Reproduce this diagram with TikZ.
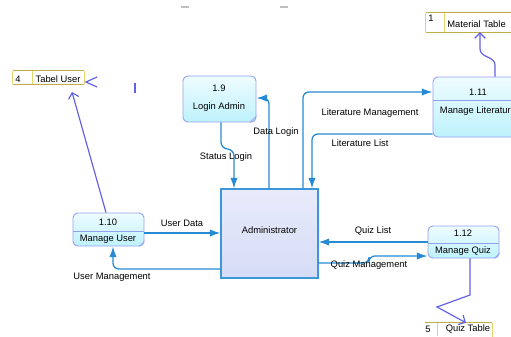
\documentclass[tikz,border=0pt]{standalone}
\usepackage{fontspec}
\setmainfont{Liberation Sans}
\usepackage{xcolor}
\usetikzlibrary{positioning,arrows.meta,fit}
\definecolor{flowblue}{RGB}{38,139,210}
\definecolor{linkviolet}{RGB}{98,96,230}
\definecolor{procline}{RGB}{150,160,240}
\definecolor{procfill}{RGB}{190,242,252}
\definecolor{proctop}{RGB}{238,252,255}
\definecolor{entline}{RGB}{60,150,215}
\definecolor{enttop}{RGB}{232,235,251}
\definecolor{entfill}{RGB}{214,220,246}
\definecolor{storeline}{RGB}{190,176,70}
\definecolor{storediv}{RGB}{226,214,110}

\begin{document}
\begin{tikzpicture}[x=0.03cm,y=-0.03cm,font=\fontsize{8}{9}\selectfont,
  proc/.style={draw=procline,line width=0.8pt,rounded corners=4pt,top color=proctop,bottom color=procfill,inner sep=0pt},
  ent/.style={draw=entline,line width=0.9pt,top color=enttop,bottom color=entfill,inner sep=0pt},
  store/.style={draw=storeline,line width=0.9pt},
  sdiv/.style={draw=storediv,line width=0.6pt},
  fold/.style={draw=procline,line width=0.6pt},
  flow/.style={draw=flowblue,line width=1.1pt,rounded corners=5pt,-{Latex[length=3.2mm,width=2.2mm]}},
  link/.style={draw=linkviolet,line width=1pt,-{Straight Barb[length=1.6mm,width=3.2mm]}},
  lbl/.style={inner sep=1pt}]
  \useasboundingbox (0,0) rectangle (511,336);
  \clip (0,0) rectangle (511,336);

  % --- data stores ---
  \node[fit={(13,71) (84,84)},inner sep=0pt] (tuser) {};
  \draw[store] (tuser.north west) -- (tuser.north east) (tuser.south west) -- (tuser.south east);
  \draw[sdiv] (tuser.north west) -- (tuser.south west) (32,71) -- (32,84) (tuser.north east) -- (tuser.south east);
  \node[lbl] at (18,79) {4}; \node[lbl] at (58,79) {Tabel User};

  \node[fit={(426,13) (540,32)},inner sep=0pt] (mtab) {};
  \draw[store] (mtab.north west) -- (mtab.north east) (mtab.south west) -- (mtab.south east);
  \draw[sdiv] (mtab.north west) -- (mtab.south west) (444,13) -- (444,32);
  \node[lbl] at (431,18) {1}; \node[lbl,anchor=west] at (446,24) {Material Table};

  \node[fit={(425,323) (492,345)},inner sep=0pt] (qtab) {};
  \draw[store] (qtab.north west) -- (qtab.north east);
  \draw[sdiv] (437,323) -- (437,336) (qtab.north east) -- (qtab.south east);
  \node[lbl] at (428,329) {5}; \node[lbl] at (468,329) {Quiz Table};

  % --- processes ---
  \node[proc,fit={(183,76) (256,122)}] (p19) {};
  \node[lbl] (p19id) at (219,88) {1.9};
  \node[lbl] (p19nm) at (219,107) {Login Admin};
  \draw[fold] ([xshift=-0.2cm]p19.south east) -- ([yshift=0.2cm]p19.south east);

  \node[proc,fit={(73,213) (144,246)}] (p10) {};
  \draw[procline,line width=0.8pt] (73,231) -- (144,231);
  \node[lbl] (p10id) at (108,222) {1.10};
  \node[lbl] (p10nm) at (108,239) {Manage User};
  \draw[fold] ([xshift=-0.15cm]p10.south east) -- ([yshift=0.15cm]p10.south east);

  \node[proc,fit={(433,77) (523,137)}] (p11) {};
  \draw[procline,line width=0.8pt] (433,100) -- (523,100);
  \node[lbl] (p11id) at (478,92) {1.11};
  \node[lbl] (p11nm) at (478,111) {Manage Literature};

  \node[proc,fit={(428,226) (499,258)}] (p12) {};
  \draw[procline,line width=0.8pt] (428,243) -- (499,243);
  \node[lbl] (p12id) at (463,233) {1.12};
  \node[lbl] (p12nm) at (463,251) {Manage Quiz};
  \draw[fold] ([xshift=-0.15cm]p12.south east) -- ([yshift=0.15cm]p12.south east);

  % --- external entity ---
  \node[ent,fit={(221,189) (318,278)}] (admin) {Administrator};

  % --- data flows ---
  \coordinate (sl1) at (221,148); \coordinate (sl2) at (234,150);
  \draw[flow] (p19.south -| sl1) -- (sl1) -- (sl2) -- (admin.north -| sl2);
  \node[lbl] at (226,157) {Status Login};

  \coordinate (dl) at (269,98);
  \draw[flow] (admin.north -| dl) |- (p19.east |- dl);
  \node[lbl] at (276,132) {Data Login};

  \coordinate (lm) at (303,92);
  \draw[flow] (admin.north -| lm) |- (p11.west |- lm);
  \node[lbl] at (370,113) {Literature Management};

  \coordinate (ll) at (312,134);
  \draw[flow] (p11.west |- ll) -| (admin.north -| ll);
  \node[lbl] at (360,143) {Literature List};

  \coordinate (ud) at (0,233);
  \draw[flow] (p10.east |- ud) -- (admin.west |- ud);
  \node[lbl] at (182,223) {User Data};

  \coordinate (um) at (113,269);
  \draw[flow] (admin.west |- um) -| (p10.south -| um);
  \node[lbl] at (112,277) {User Management};

  \coordinate (ql) at (0,242);
  \draw[flow] (p12.west |- ql) -- (admin.east |- ql);
  \node[lbl] at (373,231) {Quiz List};

  \coordinate (qm) at (369,263); \coordinate (qm2) at (0,256);
  \draw[flow] (admin.east |- qm) -- (qm) |- (p12.west |- qm2);
  \node[lbl] at (369,265) {Quiz Management};

  % --- store links ---
  \coordinate (u1) at (106,0); \coordinate (tuin) at (72,92);
  \draw[link] (p10.north -| u1) -- (tuin);
  \draw[linkviolet,line width=1pt] (97,77) -- (86,82) -- (97,87);
  \draw[linkviolet,line width=1pt] (135,83) -- (135,93);

  \coordinate (m1) at (495,0); \coordinate (m2) at (480,0);
  \draw[link] (p11.north -| m1) -- (495,65) .. controls (495,56) and (480,58) .. (480,49) -- (mtab.south -| m2);

  \coordinate (q1) at (470,0); \coordinate (q2) at (466,0);
  \draw[link] (p12.south -| q1) -- (470,295) -- (437,307) -- (qtab.north -| q2);

  % marks at top
  \draw[gray!50,line width=1pt] (181,7) -- (189,7) (280,7) -- (288,7);
\end{tikzpicture}
\end{document}
